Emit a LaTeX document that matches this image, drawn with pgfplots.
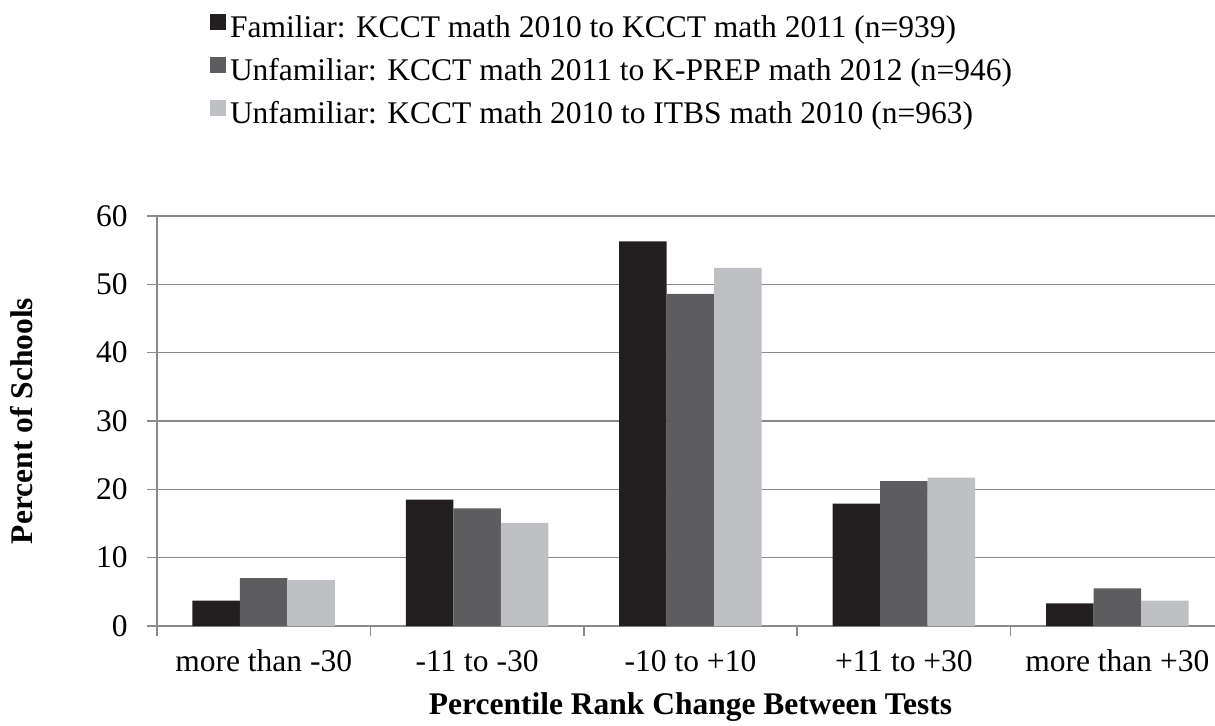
\documentclass[border=0pt]{standalone}
\usepackage{fontspec}
\setmainfont{Liberation Serif}
\usepackage{pgfplots}
\pgfplotsset{compat=1.18}
\definecolor{cA}{HTML}{231F20}
\definecolor{cB}{HTML}{5D5D5F}
\definecolor{cC}{HTML}{BFC0C4}
\definecolor{gridc}{HTML}{8A8A8A}
\begin{document}
\fontsize{15.75}{19}\selectfont
\begin{tikzpicture}
\begin{axis}[
  at={(0,0)}, anchor=south west,
  scale only axis,
  width=533.5pt, height=205pt,
  xmin=-0.5, xmax=4.5, ymin=0, ymax=60,
  ybar=0pt, bar width=23.75pt,
  axis lines*=left,
  axis line style={gridc, line width=0.75pt},
  every tick/.style={gridc, line width=0.75pt},
  tick align=outside,
  major tick length=5pt,
  xtick={-0.5,0.5,1.5,2.5,3.5,4.5},
  xticklabels={},
  extra x ticks={0,1,2,3,4},
  extra x tick labels={more than -30,-11 to -30,-10 to +10,+11 to +30,more than +30},
  extra x tick style={major tick length=0pt, grid=none},
  ytick={0,10,...,60},
  ymajorgrids,
  grid style={gridc, line width=0.75pt},
  /pgf/number format/assume math mode=true,
  tick label style={font=\fontsize{15.75}{19}\selectfont},
  xticklabel style={anchor=base, inner sep=0pt, yshift=-22.5pt},
  yticklabel style={anchor=east, inner sep=0pt, xshift=-9.5pt},
  xlabel={\textbf{Percentile Rank Change Between Tests}},
  ylabel={\textbf{Percent of Schools}},
  xlabel style={at={(axis description cs:0.5,0)}, anchor=base, yshift=-44pt, inner sep=0pt},
  ylabel style={at={(axis description cs:0,0.5)}, anchor=center, yshift=67.5pt, inner sep=0pt},
  legend style={at={(axis description cs:0,1)}, anchor=north west, xshift=26.5pt, yshift=101pt,
    draw=none, fill=none, font=\fontsize{15.75}{19}\selectfont,
    row sep=6pt, inner sep=0pt,
    nodes={inner ysep=0pt, inner xsep=1.8pt, text height=11pt, text depth=4pt}},
  legend cell align=left,
  legend image code/.code={\path (0pt,-1.4pt); \fill[#1] (0pt,0pt) rectangle (8pt,8pt);},
]
\addplot[fill=cA, draw=none] coordinates {(0,3.7) (1,18.5) (2,56.3) (3,17.9) (4,3.3)};
\addplot[fill=cB, draw=none] coordinates {(0,7.0) (1,17.2) (2,48.6) (3,21.2) (4,5.5)};
\addplot[fill=cC, draw=none] coordinates {(0,6.7) (1,15.1) (2,52.4) (3,21.7) (4,3.7)};
\legend{Familiar: KCCT math 2010 to KCCT math 2011 (n=939),
Unfamiliar: KCCT math 2011 to K-PREP math 2012 (n=946),
Unfamiliar: KCCT math 2010 to ITBS math 2010 (n=963)}
\end{axis}
\pgfresetboundingbox
\useasboundingbox (-78.5pt,-49.5pt) rectangle (529pt,313pt);
\end{tikzpicture}
\end{document}
